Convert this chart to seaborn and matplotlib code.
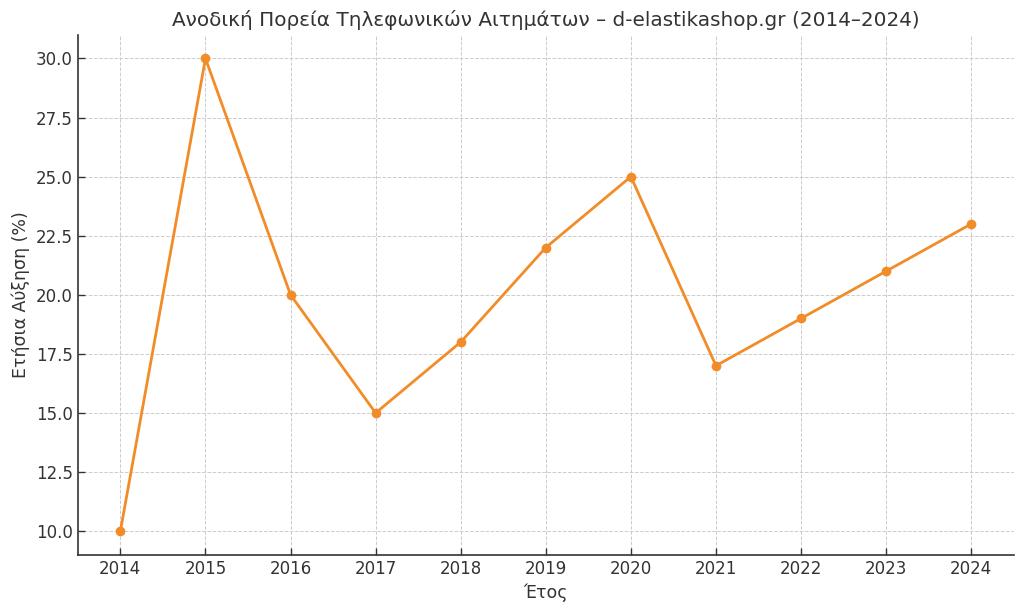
import matplotlib
matplotlib.use('Agg')
import matplotlib.pyplot as plt
import seaborn as sns
import pandas as pd

# data
years = [2014, 2015, 2016, 2017, 2018, 2019, 2020, 2021, 2022, 2023, 2024]
growth = [10, 30, 20, 15, 18, 22, 25, 17, 19, 21, 23]

df = pd.DataFrame({'year': years, 'growth': growth})

sns.set_style('whitegrid')
plt.rcParams['font.family'] = ['DejaVu Sans']
text_col = '#333333'

fig, ax = plt.subplots(figsize=(10.24, 6.11), dpi=100)
fig.subplots_adjust(left=0.076, right=0.99, top=0.943, bottom=0.092)

sns.lineplot(data=df, x='year', y='growth', ax=ax, color='#f28c28',
             marker='o', markersize=7, markeredgewidth=0, linewidth=2)

ax.set_title('Ανοδική Πορεία Τηλεφωνικών Αιτημάτων – d-elastikashop.gr (2014–2024)',
             fontsize=14.4, color=text_col)
ax.set_xlabel('Έτος', fontsize=12.5, color=text_col)
ax.set_ylabel('Ετήσια Αύξηση (%)', fontsize=12.5, color=text_col)
ax.set_xticks(years)
ax.set_xlim(2013.5, 2024.5)
ax.set_ylim(9.0, 31.0)
ax.set_yticks([10, 12.5, 15, 17.5, 20, 22.5, 25, 27.5, 30])
ax.yaxis.set_major_formatter(matplotlib.ticker.FormatStrFormatter('%.1f'))

ax.tick_params(direction='in', length=5, width=1, labelsize=12, labelcolor=text_col,
               colors=text_col, left=True, bottom=True)
ax.grid(True, linestyle='--', linewidth=0.7, color='#cccccc')
for s in ['top', 'right']:
    ax.spines[s].set_visible(False)
for s in ['left', 'bottom']:
    ax.spines[s].set_color(text_col)
    ax.spines[s].set_linewidth(1.2)

fig.savefig('out.png', dpi=100)
